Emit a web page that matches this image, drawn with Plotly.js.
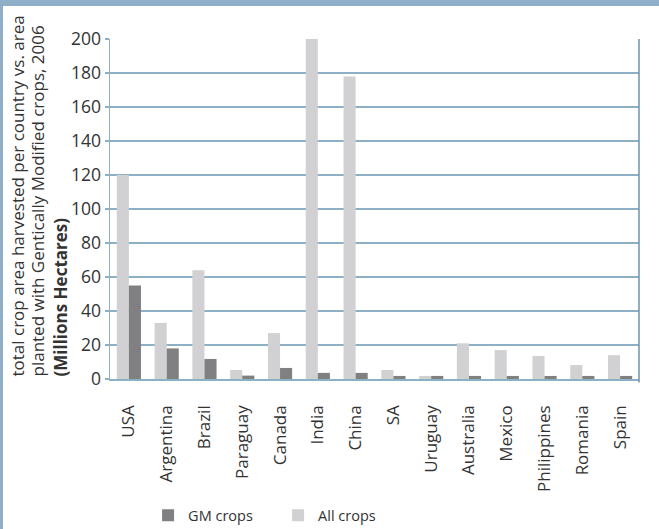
<!DOCTYPE html>
<html>
<head>
<meta charset="utf-8">
<script src="https://cdn.plot.ly/plotly-3.0.1.min.js"></script>
<style>
  html, body { margin: 0; padding: 0; background: #8eafc7; width: 659px; height: 529px; overflow: hidden; }
  #chart { position: absolute; left: 3px; top: 6px; width: 656px; height: 523px; background: #ffffff; }
</style>
</head>
<body>
<div id="chart"></div>
<script>
const countries = ["USA", "Argentina", "Brazil", "Paraguay", "Canada", "India", "China", "SA", "Uruguay", "Australia", "Mexico", "Philippines", "Romania", "Spain"];
const allCrops = [120, 33, 64, 5.3, 27, 200, 178, 5.3, 1.8, 21, 17, 13.5, 8.2, 14];
const gmCrops = [55, 18, 11.8, 2, 6.5, 3.6, 3.6, 1.8, 1.8, 1.8, 1.8, 1.8, 1.8, 1.8];
const yTitleLines = [
  "total crop area harvested per country vs. area",
  "planted with Gentically Modified crops, 2006",
  "<b>(Millions Hectares)</b>"
];

const FONT = "Open Sans, Noto Sans, sans-serif";
const traces = [
  { type: "bar", name: "All crops", x: countries, y: allCrops, marker: { color: "#d1d1d3" } },
  { type: "bar", name: "GM crops", x: countries, y: gmCrops, marker: { color: "#808083" } }
];

const shifts = [-93, -73, -50];
const annotations = yTitleLines.map((t, i) => ({
  text: t, xref: "paper", yref: "paper", x: 0, y: 0,
  xanchor: "center", yanchor: "bottom",
  xshift: shifts[i], textangle: -90, showarrow: false,
  font: { family: FONT, size: 17, color: "#333333" }
}));

const layout = {
  width: 656, height: 523,
  margin: { l: 107, r: 20, t: 33, b: 150, autoexpand: false },
  paper_bgcolor: "#ffffff", plot_bgcolor: "#ffffff",
  barmode: "group", bargap: 0.36, bargroupgap: 0,
  font: { family: FONT, color: "#333333" },
  showlegend: true,
  legend: {
    orientation: "h", traceorder: "reversed",
    x: 0.072, xanchor: "left", y: -0.354, yanchor: "top",
    entrywidth: 85, font: { family: FONT, size: 14.5, color: "#333333" }
  },
  xaxis: {
    tickangle: -90, ticks: "", ticklabelstandoff: 18, automargin: false,
    tickfont: { family: FONT, size: 17, color: "#333333" },
    showline: true, linecolor: "#8eb0c4", linewidth: 1.5,
    showgrid: false, fixedrange: true
  },
  yaxis: {
    range: [0, 200], dtick: 20, tick0: 0, automargin: false,
    ticks: "outside", ticklen: 4, tickcolor: "#8eb0c4", tickwidth: 1.5,
    tickfont: { family: FONT, size: 17.5, color: "#333333" },
    showline: true, linecolor: "#8eb0c4", linewidth: 1.5,
    showgrid: true, gridcolor: "#8eb0c4", gridwidth: 1.5,
    zeroline: false, fixedrange: true
  },
  shapes: [
    { type: "line", xref: "paper", yref: "paper", x0: 1, x1: 1, y0: -0.01, y1: 1,
      line: { color: "#6f93a8", width: 1.5 } }
  ],
  annotations: annotations
};

Plotly.newPlot("chart", traces, layout, { displayModeBar: false, staticPlot: true });
</script>
</body>
</html>
